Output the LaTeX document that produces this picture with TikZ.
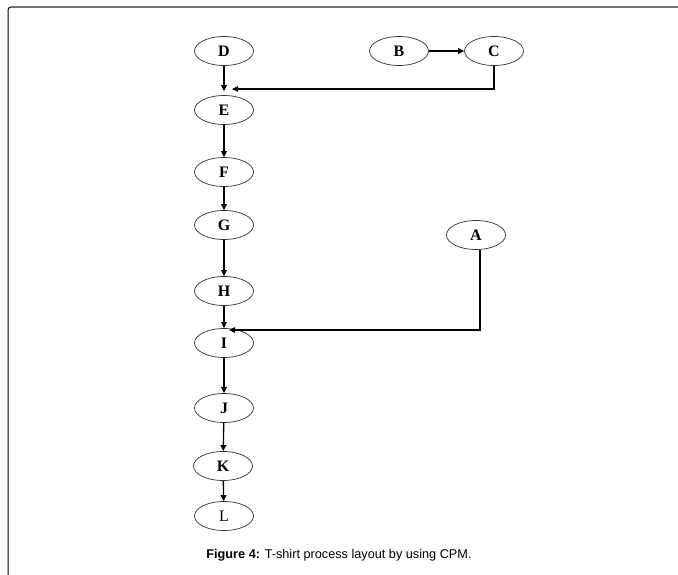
\documentclass[tikz,border=0pt]{standalone}
\usepackage{fontspec}
\setmainfont{Liberation Serif}
\newfontfamily\capfont{Liberation Sans}
\usetikzlibrary{shapes.geometric,arrows.meta}

\begin{document}
\begin{tikzpicture}[x=1pt,y=1pt]
                          \tikzstyle{every node}+=[inner sep=0pt]
                          \tikzstyle{task}=[draw=black!80,line width=0.7pt,ellipse,minimum width=59pt,minimum height=29pt,font=\fontsize{16}{16}\selectfont\bfseries]
                          \tikzstyle{link}=[black,line width=1.3pt,-{Triangle[length=6pt,width=5.5pt]}]
                          \useasboundingbox (0,0) rectangle (678,-575);
                          % frame
                          \draw [black,line width=1pt] (8,-575) -- (8,-10) arc (180:90:3) coordinate (fc);
                          \draw [black!55,line width=1.2pt] (fc) -- (678,-7);
                          % tasks
                          \node [task] (D) at (224,-51) {D};
                          \node [task] (B) at (399,-51) {B};
                          \node [task] (C) at (494,-51) {C};
                          \node [task] (E) at (224,-110) {E};
                          \node [task] (F) at (224,-172) {F};
                          \node [task] (G) at (224,-225) {G};
                          \node [task] (H) at (224,-291) {H};
                          \node [task] (I) at (224,-343) {I};
                          \node [task] (J) at (224,-408) {J};
                          \node [task] (K) at (223,-466) {K};
                          \node [task,font=\fontsize{16}{16}\selectfont] (L) at (224,-516) {L};
                          \node [task] (A) at (476,-235) {A};
                          \coordinate (ein) at (232,-89);
                          \coordinate (iin) at (229,-330);
                          % links
                          \draw [link] (B) -- (C);
                          \draw [link,shorten >=4pt] (D) -- (E);
                          \draw [link] (C.south) |- (ein);
                          \draw [link] (E) -- (F);
                          \draw [link] (F) -- (G);
                          \draw [link] (G) -- (H);
                          \draw [link] (H) -- (I);
                          \draw [link] ([xshift=4pt]A.south) |- (iin);
                          \draw [link] (I) -- (J);
                          \draw [link] (J) -- (K);
                          \draw [link] (K) -- (L);
                          % caption
                          \node (cap) at (339,-555) {\capfont\fontsize{12.7}{14}\selectfont\textbf{Figure 4:} T-shirt process layout by using CPM.};
                      \end{tikzpicture}
\end{document}
